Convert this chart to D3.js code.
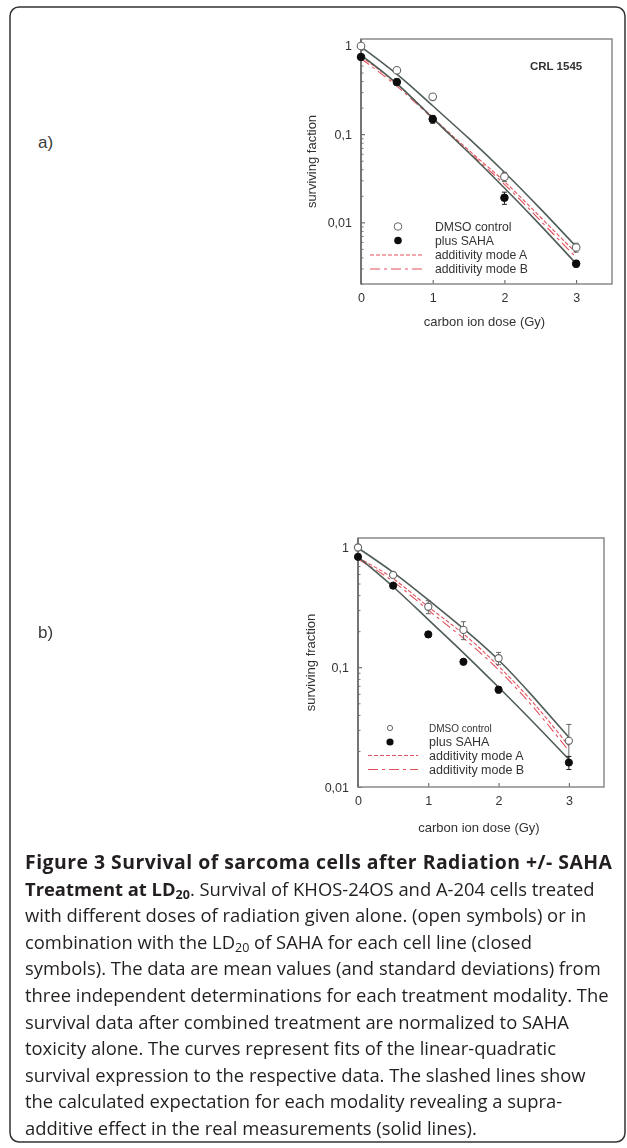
<!DOCTYPE html>
<html>
<head>
<meta charset="utf-8">
<script src="https://cdnjs.cloudflare.com/ajax/libs/d3/7.8.5/d3.min.js"></script>
<style>
  html, body { margin: 0; padding: 0; background: #fff; }
  svg { display: block; }
</style>
</head>
<body>
<svg id="fig" width="627" height="1148"></svg>
<script>
// ---- measured data ----
// panel a (CRL 1545)
const dosesA = [0, 0.5, 1, 2, 3];
const dmsoA = [1.0, 0.53, 0.265, 0.033, 0.0052];
const dmsoSdA = [0.05, 0.04, 0.02, 0.004, 0.0006];
const sahaA = [0.75, 0.39, 0.148, 0.019, 0.0034];
const sahaSdA = [0.04, 0.03, 0.015, 0.003, 0.0003];

// panel b
const dosesB = [0, 0.5, 1, 1.5, 2, 3];
const dmsoB = [1.0, 0.59, 0.32, 0.205, 0.119, 0.0243];
const dmsoSdB = [0.06, 0.03, 0.04, 0.035, 0.014, 0.009];
const sahaB = [0.835, 0.48, 0.188, 0.111, 0.065, 0.016];
const sahaSdB = [0.03, 0.02, 0.01, 0.006, 0.004, 0.002];

// fitted / expected survival curves, read at these doses
const curveDoses = [0, 0.5, 1, 1.5, 2, 2.5, 3];
const fitDmsoA = [0.98, 0.48, 0.21, 0.09, 0.037, 0.0143, 0.0053];
const fitSahaA = [0.79, 0.375, 0.152, 0.062, 0.0245, 0.0093, 0.0034];
const modeAa = [0.76, 0.37, 0.155, 0.066, 0.029, 0.0115, 0.0045];
const modeBa = [0.72, 0.35, 0.15, 0.063, 0.027, 0.0105, 0.0040];

const fitDmsoB = [0.99, 0.62, 0.365, 0.21, 0.115, 0.056, 0.026];
const fitSahaB = [0.835, 0.47, 0.25, 0.132, 0.068, 0.0344, 0.017];
const modeAb = [0.82, 0.55, 0.32, 0.19, 0.102, 0.05, 0.022];
const modeBb = [0.80, 0.52, 0.30, 0.175, 0.095, 0.046, 0.020];

// axes
const xTicks = [0, 1, 2, 3];
const yTicks = [1, 0.1, 0.01];
const yTickLabels = ["1", "0,1", "0,01"];
const legendLabels = ["DMSO control", "plus SAHA", "additivity mode A", "additivity mode B"];

const captionTitle = ["Figure 3 Survival of sarcoma cells after Radiation +/- SAHA", "Treatment at LD"];
const captionLines = [
  "with different doses of radiation given alone. (open symbols) or in",
  "combination with the LD|20| of SAHA for each cell line (closed",
  "symbols). The data are mean values (and standard deviations) from",
  "three independent determinations for each treatment modality. The",
  "survival data after combined treatment are normalized to SAHA",
  "toxicity alone. The curves represent fits of the linear-quadratic",
  "survival expression to the respective data. The slashed lines show",
  "the calculated expectation for each modality revealing a supra-",
  "additive effect in the real measurements (solid lines)."
];

// ---- drawing ----
const svg = d3.select("#fig");
const defs = svg.append("defs");
defs.append("filter").attr("id", "soft")
  .attr("x", "-5%").attr("y", "-5%").attr("width", "110%").attr("height", "110%")
  .append("feGaussianBlur").attr("stdDeviation", 0.45);

// outer frame
svg.append("rect")
  .attr("x", 10).attr("y", 7).attr("width", 615).attr("height", 1135)
  .attr("rx", 9).attr("ry", 9)
  .attr("fill", "none").attr("stroke", "#333").attr("stroke-width", 1.5);

const LINE = "#4f5d56";
const RED = "#e2505c";
const FONT = "'Liberation Sans', Arial, sans-serif";

function drawPanel(cfg) {
  const g = svg.append("g").attr("filter", "url(#soft)");
  const x = d3.scaleLinear().domain([0, 3.5]).range([cfg.left, cfg.right]);
  const y = d3.scaleLog().domain(cfg.yDomain).range([cfg.bottom, cfg.top]);

  // panel letter
  svg.append("text").attr("x", 38).attr("y", cfg.letterY)
    .attr("font-family", FONT).attr("font-size", 17).attr("fill", "#3a3a3a")
    .text(cfg.letter);

  // minor log ticks
  const minor = y.ticks().filter(v => !yTicks.includes(v));
  g.append("g").attr("transform", `translate(${cfg.left},0)`)
    .call(d3.axisLeft(y).tickValues(minor).tickSize(-2.5).tickFormat(""))
    .call(s => s.select(".domain").remove())
    .call(s => s.selectAll("line").attr("stroke", "#777"));

  // major y ticks
  g.append("g").attr("transform", `translate(${cfg.left},0)`)
    .call(d3.axisLeft(y).tickValues(yTicks).tickSize(-4).tickPadding(9)
      .tickFormat((d, i) => yTickLabels[i]))
    .call(s => s.select(".domain").remove())
    .call(s => s.selectAll("line").attr("stroke", "#555"))
    .call(s => s.selectAll("text").attr("font-family", FONT).attr("font-size", 12.5).attr("fill", "#333"));

  // x ticks
  g.append("g").attr("transform", `translate(0,${cfg.bottom})`)
    .call(d3.axisBottom(x).tickValues(xTicks).tickSize(-4).tickPadding(9).tickFormat(d3.format("d")))
    .call(s => s.select(".domain").remove())
    .call(s => s.selectAll("line").attr("stroke", "#555"))
    .call(s => s.selectAll("text").attr("font-family", FONT).attr("font-size", 12.5).attr("fill", "#333"));

  // plot frame
  g.append("rect").attr("x", cfg.left).attr("y", cfg.top)
    .attr("width", cfg.right - cfg.left).attr("height", cfg.bottom - cfg.top)
    .attr("fill", "none").attr("stroke", "#8a8a8a").attr("stroke-width", 1.5);
  g.append("line").attr("x1", cfg.left).attr("x2", cfg.left)
    .attr("y1", cfg.top).attr("y2", cfg.bottom).attr("stroke", "#666").attr("stroke-width", 1.5);

  // axis titles
  g.append("text")
    .attr("transform", `translate(${cfg.yLabelX},${(cfg.top + cfg.bottom) / 2}) rotate(-90)`)
    .attr("text-anchor", "middle").attr("font-family", FONT).attr("font-size", 13).attr("fill", "#333")
    .text(cfg.yTitle);
  g.append("text").attr("x", (cfg.left + cfg.right) / 2 - 2).attr("y", cfg.xLabelY)
    .attr("text-anchor", "middle").attr("font-family", FONT).attr("font-size", 13).attr("fill", "#333")
    .text("carbon ion dose (Gy)");

  if (cfg.tag) {
    g.append("text").attr("x", cfg.right - 82).attr("y", cfg.top + 31)
      .attr("font-family", FONT).attr("font-size", 11.5).attr("font-weight", "bold").attr("fill", "#333")
      .text(cfg.tag);
  }

  // curves
  const line = d3.line().x((d, i) => x(curveDoses[i])).y(d => y(d)).curve(d3.curveNatural);
  g.append("path").attr("d", line(cfg.modeA)).attr("fill", "none")
    .attr("stroke", RED).attr("stroke-width", 1.1).attr("stroke-dasharray", "4,2");
  g.append("path").attr("d", line(cfg.modeB)).attr("fill", "none")
    .attr("stroke", RED).attr("stroke-width", 1.1).attr("stroke-dasharray", "10,4,3,4");
  g.append("path").attr("d", line(cfg.fitDmso)).attr("fill", "none")
    .attr("stroke", LINE).attr("stroke-width", 1.6);
  g.append("path").attr("d", line(cfg.fitSaha)).attr("fill", "none")
    .attr("stroke", LINE).attr("stroke-width", 1.6);

  // error bars
  function errorBars(vals, sds, color) {
    const eg = g.append("g").attr("stroke", color).attr("stroke-width", 1);
    cfg.doses.forEach((d, i) => {
      const cx = x(d);
      const hi = y(vals[i] + sds[i]), lo = y(Math.max(vals[i] - sds[i], cfg.yDomain[0]));
      eg.append("line").attr("x1", cx).attr("x2", cx).attr("y1", hi).attr("y2", lo);
      eg.append("line").attr("x1", cx - 2.5).attr("x2", cx + 2.5).attr("y1", hi).attr("y2", hi);
      eg.append("line").attr("x1", cx - 2.5).attr("x2", cx + 2.5).attr("y1", lo).attr("y2", lo);
    });
  }
  errorBars(cfg.dmso, cfg.dmsoSd, "#666");
  errorBars(cfg.saha, cfg.sahaSd, "#222");

  // points
  g.selectAll(null).data(cfg.saha).join("circle")
    .attr("cx", (d, i) => x(cfg.doses[i])).attr("cy", d => y(d)).attr("r", cfg.r)
    .attr("fill", "#111").attr("stroke", "#111");
  g.selectAll(null).data(cfg.dmso).join("circle")
    .attr("cx", (d, i) => x(cfg.doses[i])).attr("cy", d => y(d)).attr("r", cfg.r)
    .attr("fill", "#fff").attr("stroke", "#666").attr("stroke-width", 1.1);

  // legend
  const lg = g.append("g");
  const L = cfg.legend;
  lg.append("circle").attr("cx", L.sym).attr("cy", L.rows[0]).attr("r", L.r0)
    .attr("fill", "#fff").attr("stroke", "#666").attr("stroke-width", 1);
  lg.append("circle").attr("cx", L.sym).attr("cy", L.rows[1]).attr("r", cfg.r)
    .attr("fill", "#111");
  lg.append("line").attr("x1", L.x1).attr("x2", L.x2).attr("y1", L.rows[2]).attr("y2", L.rows[2])
    .attr("stroke", RED).attr("stroke-width", 1.1).attr("stroke-dasharray", "4,2");
  lg.append("line").attr("x1", L.x1).attr("x2", L.x2).attr("y1", L.rows[3]).attr("y2", L.rows[3])
    .attr("stroke", RED).attr("stroke-width", 1.1).attr("stroke-dasharray", "10,4,3,4");
  legendLabels.forEach((t, i) => {
    lg.append("text").attr("x", L.tx).attr("y", L.rows[i]).attr("dy", "0.35em")
      .attr("font-family", FONT).attr("font-size", L.sizes[i]).attr("fill", "#333").text(t);
  });
}

drawPanel({
  letter: "a)", letterY: 148,
  left: 361, right: 612, top: 39, bottom: 284, yDomain: [0.002, 1.2],
  yTitle: "surviving faction", yLabelX: 316, xLabelY: 326, tag: "CRL 1545", r: 3.8,
  doses: dosesA, dmso: dmsoA, dmsoSd: dmsoSdA, saha: sahaA, sahaSd: sahaSdA,
  fitDmso: fitDmsoA, fitSaha: fitSahaA, modeA: modeAa, modeB: modeBa,
  legend: { sym: 398, x1: 370, x2: 422, tx: 435, rows: [226.5, 240.5, 255, 269], r0: 3.8,
            sizes: [12.2, 12.2, 12.2, 12.2] }
});

drawPanel({
  letter: "b)", letterY: 638,
  left: 358, right: 604, top: 538, bottom: 787, yDomain: [0.01, 1.2],
  yTitle: "surviving fraction", yLabelX: 315, xLabelY: 832, tag: null, r: 3.6,
  doses: dosesB, dmso: dmsoB, dmsoSd: dmsoSdB, saha: sahaB, sahaSd: sahaSdB,
  fitDmso: fitDmsoB, fitSaha: fitSahaB, modeA: modeAb, modeB: modeBb,
  legend: { sym: 390, x1: 368, x2: 418, tx: 429, rows: [728, 742, 755.5, 769.5], r0: 2.6,
            sizes: [10, 12.5, 12.5, 12.5] }
});

// ---- caption ----
const CAP = "'Open Sans', 'Noto Sans', sans-serif";
const capX = 25, capTop = 869, capStep = 26.6, capSize = 18.4;
const cap = svg.append("g").attr("font-family", CAP).attr("fill", "#231f20");

cap.append("text").attr("x", capX).attr("y", capTop)
  .attr("font-size", 19.4).attr("font-weight", "bold")
  .attr("textLength", 587).attr("lengthAdjust", "spacing")
  .text(captionTitle[0]);

const t2 = cap.append("text").attr("x", capX).attr("y", capTop + capStep).attr("font-size", capSize);
t2.append("tspan").attr("font-weight", "bold").text(captionTitle[1]);
t2.append("tspan").attr("font-weight", "bold").attr("font-size", 12.5).attr("dy", 3.5).text("20");
t2.append("tspan").attr("dy", -3.5).text(". Survival of KHOS-24OS and A-204 cells treated");

captionLines.forEach((ln, i) => {
  const t = cap.append("text").attr("x", capX).attr("y", capTop + capStep * (i + 2)).attr("font-size", capSize);
  const parts = ln.split("|");
  parts.forEach((p, k) => {
    const ts = t.append("tspan").text(p);
    if (k === 1) ts.attr("font-size", 12.5).attr("dy", 3.5);
    if (k === 2) ts.attr("dy", -3.5);
  });
});
</script>
</body>
</html>
